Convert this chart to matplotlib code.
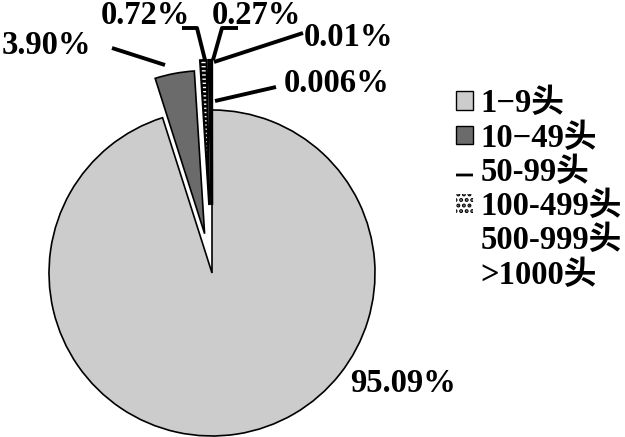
import matplotlib.pyplot as plt
from matplotlib.patches import Patch
import numpy as np

plt.rcParams['font.family'] = ['Liberation Serif', 'Noto Sans CJK SC']
plt.rcParams['font.weight'] = 'bold'
plt.rcParams['hatch.linewidth'] = 2.0

# data
categories = ['1-9头', '10-49头', '50-99头', '100-499头', '500-999头', '>1000头']
legend_labels = ['1\u22129头', '10\u221249头', '50-99头', '100-499头', '500-999头', '>1000头']
shares = [95.09, 3.90, 0.72, 0.27, 0.01, 0.006]
pct_labels = ['95.09%', '3.90%', '0.72%', '0.27%', '0.01%', '0.006%']

colors = ['#cccccc', '#6b6b6b', 'white', 'white', 'white', 'white']
hatches = [None, None, '----', '---', None, None]
explode_px = [0, 40, 68, 68, 68, 68]

W, H = 625, 437
fig = plt.figure(figsize=(6.25, 4.37), dpi=100)
ax = fig.add_axes([0, 0, 1, 1])

cx, cy, r = 212, H - 273, 163
wedges, _ = ax.pie(shares, colors=colors, explode=explode_px, center=(cx, cy),
                   radius=r, startangle=90, counterclock=False, frame=True,
                   wedgeprops=dict(edgecolor='black', linewidth=1.2))
for i, w in enumerate(wedges):
    if hatches[i]:
        w.set_hatch(hatches[i])
    if i >= 2:
        # the tiny slices are drawn shorter, as a thin strip
        w.set_radius(145)
        w.set_linewidth(1.6)
ax.set_xlim(0, W)
ax.set_ylim(0, H)
ax.axis('off')

fs = 23.5
# big slice label
ax.text(350, H - 383, pct_labels[0], fontsize=fs, ha='left', va='center')

# small slice labels with leader lines (pixel coords of the figure)
text_pos = [None, (2, 46), (101, 16), (212, 16), (304, 38), (284, 84)]
leaders = [None,
           [(112, 48), (165, 65)],
           [(182, 28), (197, 28), (205, 60)],
           [(238, 28), (222, 28), (213, 60)],
           [(303, 33), (214, 62)],
           [(276, 87), (215, 101)]]

for i in range(1, len(shares)):
    tx, ty = text_pos[i]
    ax.text(tx, H - ty, pct_labels[i], fontsize=fs, ha='left', va='center')
    xs = [p[0] for p in leaders[i]]
    ys = [H - p[1] for p in leaders[i]]
    ax.plot(xs, ys, color='black', lw=2.8, solid_capstyle='butt')

handles = [
    Patch(facecolor=colors[0], edgecolor='black', linewidth=1),
    Patch(facecolor=colors[1], edgecolor='black', linewidth=1),
    Patch(facecolor='white', edgecolor='black', linewidth=0, hatch='-'),
    Patch(facecolor='white', edgecolor='black', linewidth=0, hatch='...'),
    Patch(facecolor='white', edgecolor='white', linewidth=0),
    Patch(facecolor='white', edgecolor='white', linewidth=0),
]
ax.legend(handles, legend_labels, loc='upper left',
          bbox_to_anchor=(440 / W, 1 - 72 / H), frameon=False,
          fontsize=fs, handlelength=0.5, handleheight=0.5,
          handletextpad=0.25, labelspacing=0.1, borderpad=0)

fig.savefig('out.png', dpi=100)
